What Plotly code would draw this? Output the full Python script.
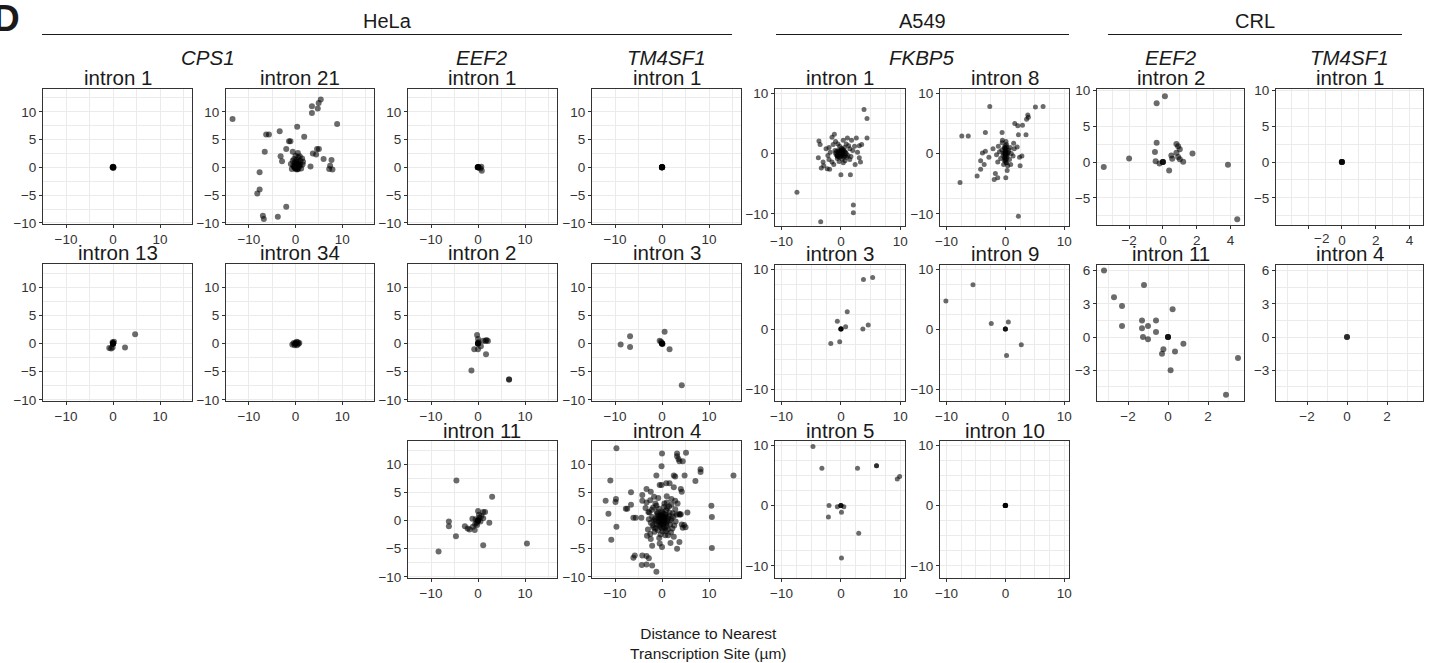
import plotly.graph_objects as go

W, H = 1431, 663
FONT = "Liberation Sans, Arial, Helvetica, sans-serif"

# ---------------- DATA (distance to nearest transcription site, µm) ----------------
# HeLa CPS1 intron 1
HELA_CPS1_I1_X = [0, 0.05, -0.05, 0.1, 0, -0.1, 0.05]
HELA_CPS1_I1_Y = [0, 0.05, -0.05, 0, 0.1, 0, -0.1]
# HeLa CPS1 intron 21
HELA_CPS1_I21_X = [-13.5, 3.5, 3.5, 4.75, 4.95, 5.4, 8.9, 0.35, -3.4, -6.3, -5.7, 1.85, -1.4, -1.1, -6.6,
                   -2.0, -0.6, 0.5, 4.6, 5.0, 3.7, 4.4, -3.2, -2.9, 6.0, 7.7, 7.4, 7.2, 7.9, 3.2, -7.7,
                   -7.7, -8.2, -2.0, -7.0, -6.8, -3.8,
                   0, 0, 0, 0, 0, -0.5, 0.4, 1.0, -0.3, 0.6, 1.5, 1.2, -0.8, 0.3, 0.8, -0.2, 0.5, 1.0,
                   0.2, -0.1, 0.1, 0.6, 1.6, -1.0, 0.0, 0.9, 1.4, -0.6, 0.3, 0.7,
                   0.1, -0.1, 0.3, 0.5, 0.2, -0.3, 0.4, 0.0, 0.7, 0.2, 0.0, -0.2]
HELA_CPS1_I21_Y = [8.7, 9.8, 11.0, 10.6, 11.6, 12.2, 7.8, 7.3, 6.5, 5.9, 5.9, 5.5, 4.7, 4.7, 2.8,
                   3.3, 2.8, 2.6, 3.3, 3.3, 2.5, 2.3, 2.0, 1.1, 1.5, 1.3, 0.3, -0.3, -0.4, 0.15, -0.9,
                   -4.0, -4.7, -7.1, -8.7, -9.3, -8.9,
                   0, 0, 0, 0, 0, 0.3, 0.6, 1.2, 1.5, 1.8, 0.5, -0.2, -0.3, -0.4, 0.2, 0.8, 1.0, 0.4,
                   0.1, -0.1, 0.3, -0.3, 1.0, 0.6, 2.1, 2.0, 1.6, 1.2, 0.5, 0.7,
                   0.2, 0.4, 0.0, 0.3, 0.6, 0.1, -0.2, -0.3, 0.4, 1.3, 1.0, 0.0]
# HeLa CPS1 intron 13
HELA_CPS1_I13_X = [0, 0, 0, 0, 0, 0, 0.2, -0.1, 4.7, 2.55, -0.4, -0.1, -0.8]
HELA_CPS1_I13_Y = [0, 0, 0, 0, 0, 0, 0.3, 0.2, 1.65, -0.7, -0.9, -0.7, -0.8]
# HeLa CPS1 intron 34
HELA_CPS1_I34_X = [0, 0, 0, 0, -0.7, -0.4, 0.3, 0.8, 0.5, -0.2, 0.2, 0.6]
HELA_CPS1_I34_Y = [0, 0, 0, 0, -0.2, 0.1, -0.3, 0.1, 0.2, -0.3, 0.3, -0.1]
# HeLa EEF2 intron 1
HELA_EEF2_I1_X = [0, 0, 0, 0, 0.1, -0.1, 0.7, 0.8, 0.5]
HELA_EEF2_I1_Y = [0, 0, 0, 0, 0.05, 0, 0.1, -0.6, -0.2]
# HeLa EEF2 intron 2
HELA_EEF2_I2_X = [0, 0, 0, 0, 0.1, -0.2, 0.0, 1.6, 2.1, 1.1, 1.8, 0.6, -0.8, 0.0, 1.7, -1.4, 6.6, 6.6]
HELA_EEF2_I2_Y = [0, 0, 0, 0, 0.2, 1.5, 0.8, 0.45, 0.45, 0.5, 0.6, -0.5, -1.0, -1.0, -1.9, -4.8, -6.4, -6.4]
# HeLa EEF2 intron 11
HELA_EEF2_I11_X = [-4.6, 3.0, -6.2, -6.2, -4.7, -8.4, 1.1, 10.4, 2.4, 0, 1.1, 1.5, -2.8, -2.2, -1.8, -0.7,
                   -1.1, 1.1, -1.2, 0, 0, 0, 0, 0.3, -0.3, 0.5, -0.5, 0.2, -0.2, 0.7, -0.6]
HELA_EEF2_I11_Y = [7.1, 4.2, -0.2, -1.0, -2.8, -5.5, -4.4, -4.1, -0.4, 1.7, 1.5, 1.5, -1.0, -1.4, -1.6, -1.7,
                   -1.1, 0.4, 0.3, 0, 0, 0, 0, 0.5, -0.4, -0.2, 0.2, 1.0, -0.8, 0.8, -0.6]
# HeLa TM4SF1 intron 1
HELA_TM4SF1_I1_X = [0, 0, 0, 0, 0, 0, 0.05, -0.05]
HELA_TM4SF1_I1_Y = [0, 0, 0, 0, 0, 0, 0.05, -0.05]
# HeLa TM4SF1 intron 3
HELA_TM4SF1_I3_X = [0, 0, 0, 0, 0.1, -0.5, -0.2, 0.55, 1.6, 4.2, -8.8, -6.8, -6.8]
HELA_TM4SF1_I3_Y = [0, 0, 0, 0, -0.1, 0.5, 0.3, 2.1, -1.0, -7.4, -0.2, 1.3, -0.6]
# HeLa TM4SF1 intron 4
HELA_TM4SF1_I4_X = [-9.7, 0, 3.2, 3.2, 3.5, 3.7, 4.4, 5.1, -0.1, 15.2, 8.2, 8.2, -1.2, 2.5, 2.8, 4.8, 7.1,
                    -11.0, -6.6, -4.2, -3.3, -2.4, -0.5, -0.1, 0.9, 1.6, 2.5, 4.0, 4.2, -12.0, -9.8, -9.9,
                    -11.4, -7.7, -7.4, -6.6, -6.1, -5.6, -4.4, -9.7, -10.8, -6.1, -5.8, -4.2, -3.3, -2.8,
                    -4.3, -3.3, -2.1, -1.2, 10.5, 10.6, 10.6, 5.4, 5.0, 3.2, 3.7, 2.5, 1.8, -0.5, 0, -3.2,
                    -2.4, -2.1, 4.2, 4.7, 4.4, 4.0, 3.6, 3.8, -4.2, -3.3, -2.5, -1.7, -0.8, 1.0, 2.0, 2.8,
                    3.3, -3.5, -2.9,
                    0, 0.2, -0.3, 0.5, -0.6, 0.8, -0.9, 1.1, -1.2, 0.3, -0.4, 1.4, -1.5, 0.6, -0.1, 1.7,
                    -1.8, 0.9, -1.1, 2.0, -2.1, 0.1, 1.2, -0.7, 2.3, -2.4, 0.4, -1.6, 1.9, -0.3, 2.6, -2.7,
                    0.7, 1.5, -1.9, 2.8, -2.5, 0.0, 0.5, -0.5, 0.2, -0.2, 0.9, -0.8, 0.4, -0.4, 1.3, -1.3,
                    0.7, -0.7, 1.0, -1.0, 0.1, 0.3, -0.1, 0.6, -0.6, 1.6, -1.4, 2.2, -2.2, 1.8, -1.7, 0.0,
                    1.1, -1.2, 2.4, -0.9, 0.8, -2.0, 0.2, -0.2, 0.3, -0.3, 0.6, 2.9, -2.8, 1.3, -1.4, 0.5,
                    2.0, -0.6, 1.0, -3.0, 3.1]
HELA_TM4SF1_I4_Y = [12.8, 11.9, 11.9, 11.4, 10.9, 10.5, 10.5, 12.0, 9.6, 8.0, 9.1, 8.6, 8.0, 8.0, 7.8, 8.0, 7.0,
                    7.1, 5.0, 4.5, 5.6, 5.1, 6.3, 6.3, 6.6, 6.6, 5.9, 5.6, 5.1, 3.5, 3.8, 3.3,
                    1.2, 2.1, 2.1, 2.8, 0.5, 0.5, 0.5, -1.1, -3.4, -6.6, -6.2, -6.2, -6.3, -6.7,
                    -7.9, -7.8, -8.0, -9.1, 2.6, 0.6, -4.9, 1.4, -1.2, -5.0, -3.8, -2.9, -4.0, -4.1, -4.7, -2.7,
                    -3.3, -4.5, -0.7, -0.8, -1.3, 1.1, 1.2, 1.0, 3.5, 3.2, 3.6, 4.2, 4.0, 4.3, 3.8, 3.5,
                    3.0, 2.2, 1.5,
                    0, 0.3, 0.5, -0.4, -0.2, 0.7, 0.9, -0.1, -0.6, 1.2, -1.1, 0.9, 0.3, -1.3, 1.6, -0.7,
                    -1.2, 1.8, 1.5, 0.3, 0.6, -1.9, -1.6, 2.1, 1.3, -0.4, 2.4, -2.0, -2.1, -2.5, -0.9, 1.4,
                    -2.6, 2.5, 2.3, 2.0, -2.4, 0.8, 0.1, 0.2, -0.6, -0.3, -0.5, 0.4, 0.6, 1.0, 0.4, -0.1,
                    1.1, -0.8, -1.0, 1.2, 1.4, -1.0, 0.1, 0.5, 0.7, 1.4, -1.4, -1.4, 1.9, 0.0, 0.0, -1.4,
                    2.2, 2.6, 0.7, -1.7, -1.9, -0.9, 0.0, 0.6, 0.3, -0.7, -0.2, -0.2, 0.2, -2.6, 3.0, 3.0,
                    2.8, -3.1, 3.2, -1.6, 1.0]

# A549 FKBP5 intron 1
A549_FKBP5_I1_X = [3.9, 4.4, 4.4, -7.4, 2.1, 2.1, -3.4, -3.7, -3.5, -3.8, -3.0, -3.3, -2.9, -2.3, -1.9, -1.1,
                   -1.5, 0, 1.6, 1.1, 1.8, 2.6, 3.1, 3.5, 2.8, 3.1, 3.3, 2.4, 1.5, 1.0, -2.0, -1.5, -2.5, -2.0,
                   -0.6, -0.3,
                   0, 0, 0, 0, 0.3, -0.4, 0.8, -0.8, 0.5, -0.2, 0.6, -1.0, 1.2, 0.2, -0.6, 1.5, -1.3, 0.9,
                   2.0, -1.8, 1.7, -0.9, 0.4, 2.3, -2.2, 0.0, 0.1, -0.3, 0.7, -1.2, 1.3, 0.4, -0.5,
                   0.2, -0.2, 0.4, -0.4, 0.1, -0.1, 0.6, -0.6, 0.3, -0.3, 0.5, -0.5, 0.7, -0.7, 0.0, 0.2,
                   -0.2, 0.9, -0.9, 0.1]
A549_FKBP5_I1_Y = [7.3, 5.8, 2.6, -6.4, -8.5, -9.8, -11.3, 2.1, 1.5, -0.7, -1.4, -2.4, -2.0, -2.5, -2.6, 3.2,
                   2.7, -3.5, -3.5, 2.6, 2.2, 2.6, 1.3, 1.5, 0.2, -0.7, -1.4, -1.8, -1.0, -0.6, -1.0, -1.4, 0.8,
                   1.0, -0.4, -1.3,
                   0, 0, 0, 0, 0.4, 0.6, 0.2, -0.2, -0.6, 1.2, 1.0, 0.5, -0.3, -0.9, -0.8, 0.8, 1.5, 1.6,
                   0.5, 0.2, -0.5, 2.0, 2.2, 1.2, -0.3, 0.5, -0.2, 0.2, -1.2, -1.8, 1.3, -1.5, 1.6,
                   0.1, -0.1, -0.2, 0.2, 0.5, -0.5, 0.3, -0.3, 0.7, -0.6, 0.5, -0.5, -0.4, 0.4, 0.3, -0.3,
                   0.4, 0.0, 0.1, 0.9]
# A549 FKBP5 intron 8
A549_FKBP5_I8_X = [-7.7, -7.4, -6.3, -3.4, -2.65, -0.56, 1.6, 2.1, 2.9, 3.6, 3.9, 3.8, 5.1, 6.4, 3.5, 2.2,
                   -4.8, -4.2, -4.2, -3.6, -2.8, -3.9, -3.4, -1.7, -1.3, -1.9, 0.07, 0.3, 2.5, 2.4, 2.8, 1.4,
                   2.0, -1.5, -1.3, -2.1, -0.55, 2.2,
                   0, 0, 0, 0.1, -0.2, 0.3, 0, 0.2, -0.4, 0.5, -0.6, 0.7, -0.3, 0.4, 0.8, -0.8, 1.0, -1.0,
                   0.2, 0, -0.1, 0.6, 1.3, -1.2, 0.9, 0.1, -0.5, 1.5,
                   0, 0, 0.1, -0.1, 0.2, -0.2, 0.1, 0, 0.3, -0.3, 0.2, -0.1, 0.3, -0.2, 0.1, 0]
A549_FKBP5_I8_Y = [-4.8, 2.9, 2.9, 3.5, 7.8, 3.5, 5.0, 4.6, 4.7, 5.7, 6.0, 6.4, 7.7, 7.8, 3.1, 3.1,
                   -3.7, -2.6, -1.2, -1.8, -0.6, 0.1, 0.4, -3.3, -4.0, -4.3, -4.0, -2.8, -2.0, -0.6, -0.4, 1.7,
                   1.1, -0.2, -1.4, 0.8, 1.8, -10.4,
                   0, 0, 0, 0.5, 1.0, -0.5, -1.2, 1.5, -0.3, 0.2, 0.6, -1.0, -1.8, -2.0, 1.0, -0.8, 0.0, 0.3,
                   -1.5, 0.9, -0.6, 0.6, -0.4, 1.2, -1.8, 2.0, 2.2, 0.8,
                   0.3, -0.3, 0.7, -0.7, 1.1, -1.1, -1.5, 1.3, 0.1, 0.0, -0.9, 0.9, -0.2, 0.2, 0.0, -0.9]
# A549 FKBP5 intron 3
A549_FKBP5_I3_X = [3.8, 5.35, 1.07, -0.6, 0.8, 0, 0, 0, 0.05, 3.7, 4.6, -0.2, -1.7]
A549_FKBP5_I3_Y = [8.3, 8.6, 2.9, 1.3, 0.4, 0, 0, 0, 0.05, 0, 0.7, -2.1, -2.4]
# A549 FKBP5 intron 9
A549_FKBP5_I9_X = [-10.1, -5.5, -2.4, 0.5, 0, 0, 0, 2.7, 0.2]
A549_FKBP5_I9_Y = [4.7, 7.4, 0.95, 1.2, 0, 0, 0, -2.6, -4.4]
# A549 FKBP5 intron 5
A549_FKBP5_I5_X = [-4.7, -3.2, 2.8, 6.0, 6.0, 9.5, 9.9, -2.0, -2.1, -0.6, 0.5, 0, 0, 0, 0.1, 3.0, 0.1]
A549_FKBP5_I5_Y = [9.8, 6.2, 6.2, 6.6, 6.6, 4.4, 4.8, 0, -1.9, -0.2, -0.2, 0, 0, 0, -1.1, -4.6, -8.7]
# A549 FKBP5 intron 10
A549_FKBP5_I10_X = [0, 0, 0, 0, 0, 0.05, -0.05]
A549_FKBP5_I10_Y = [0, 0, 0, 0, 0, 0.05, 0]

# CRL EEF2 intron 2
CRL_EEF2_I2_X = [0.12, -0.37, -0.37, -0.47, -0.43, -0.2, 0, 0, 0, -3.5, -2.0, 0.37, 0.5, 0.55, 0.8, 0.9,
                 1.0, 0.8, 0.9, 1.0, 1.2, 1.75, 3.85, 4.4]
CRL_EEF2_I2_Y = [9.2, 8.2, 2.7, 1.4, 0.1, -0.2, 0, 0, 0, -0.7, 0.5, -1.2, 0.9, 0.45, 2.5, 2.2,
                 1.8, 1.3, 0.7, 0.4, 0.05, 1.2, -0.4, -8.0]
# CRL TM4SF1 intron 1
CRL_TM4SF1_I1_X = [0, 0, 0, 0]
CRL_TM4SF1_I1_Y = [0, 0, 0, 0]
# CRL EEF2 intron 11
CRL_EEF2_I11_X = [-3.2, -1.2, -2.7, -2.3, -2.3, 0.23, -1.3, -0.6, -1.3, -1.0, -0.6, -1.25, -1.0, 0, 0, 0,
                  -0.23, -0.3, 0.35, 0.77, 0.13, 3.5, 2.9]
CRL_EEF2_I11_Y = [6.0, 4.7, 3.6, 2.8, 1.0, 2.5, 1.5, 1.5, 0.8, 1.0, 0.45, 0, -0.2, 0, 0, 0,
                  -1.1, -1.5, -1.3, -0.6, -3.0, -1.9, -5.2]
# CRL TM4SF1 intron 4
CRL_TM4SF1_I4_X = [0, 0]
CRL_TM4SF1_I4_Y = [0, 0]

CELL_LINES = ["HeLa", "A549", "CRL"]
AXIS_TITLE = "Distance to Nearest<br>Transcription Site (µm)"

# ---------------- LAYOUT ----------------
GRID = "#ebebeb"
AX = "#333333"
PT = "rgba(0,0,0,0.58)"

SCALES = {
    "hela": dict(xr=[-14.9, 16.8], xd=10, xm=5, yr=[-10.2, 14.1], yd=5, ym=2.5, ms=6),
    "a549": dict(xr=[-11.1, 10.8], xd=10, xm=2.5, yr=[-12.0, 10.7], yd=10, ym=2.5, ms=5),
    "crl1": dict(xr=[-3.9, 4.8], xd=2, xm=1, yr=[-8.8, 10.2], yd=5, ym=2.5, ms=6),
    "crl2": dict(xr=[-3.55, 3.8], xd=2, xm=1, yr=[-5.77, 6.5], yd=3, ym=1.5, ms=6),
}

COLS = {1: (43, 192), 2: (226, 374), 3: (408, 557), 4: (592, 741),
        5: (775, 905), 6: (940, 1069), 7: (1097, 1244), 8: (1276, 1423)}
ROWS_HELA = {1: (89, 224), 2: (264, 401), 3: (441, 578)}
ROWS_A549 = {1: (89, 226), 2: (265, 401), 3: (441, 578)}
ROWS_CRL = {1: (89, 225), 2: (265, 401)}

PANELS = [
    (HELA_CPS1_I1_X, HELA_CPS1_I1_Y, 1, ROWS_HELA[1], "hela", "intron 1"),
    (HELA_CPS1_I21_X, HELA_CPS1_I21_Y, 2, ROWS_HELA[1], "hela", "intron 21"),
    (HELA_EEF2_I1_X, HELA_EEF2_I1_Y, 3, ROWS_HELA[1], "hela", "intron 1"),
    (HELA_TM4SF1_I1_X, HELA_TM4SF1_I1_Y, 4, ROWS_HELA[1], "hela", "intron 1"),
    (HELA_CPS1_I13_X, HELA_CPS1_I13_Y, 1, ROWS_HELA[2], "hela", "intron 13"),
    (HELA_CPS1_I34_X, HELA_CPS1_I34_Y, 2, ROWS_HELA[2], "hela", "intron 34"),
    (HELA_EEF2_I2_X, HELA_EEF2_I2_Y, 3, ROWS_HELA[2], "hela", "intron 2"),
    (HELA_TM4SF1_I3_X, HELA_TM4SF1_I3_Y, 4, ROWS_HELA[2], "hela", "intron 3"),
    (HELA_EEF2_I11_X, HELA_EEF2_I11_Y, 3, ROWS_HELA[3], "hela", "intron 11"),
    (HELA_TM4SF1_I4_X, HELA_TM4SF1_I4_Y, 4, ROWS_HELA[3], "hela", "intron 4"),
    (A549_FKBP5_I1_X, A549_FKBP5_I1_Y, 5, ROWS_A549[1], "a549", "intron 1"),
    (A549_FKBP5_I8_X, A549_FKBP5_I8_Y, 6, ROWS_A549[1], "a549", "intron 8"),
    (A549_FKBP5_I3_X, A549_FKBP5_I3_Y, 5, ROWS_A549[2], "a549", "intron 3"),
    (A549_FKBP5_I9_X, A549_FKBP5_I9_Y, 6, ROWS_A549[2], "a549", "intron 9"),
    (A549_FKBP5_I5_X, A549_FKBP5_I5_Y, 5, ROWS_A549[3], "a549", "intron 5"),
    (A549_FKBP5_I10_X, A549_FKBP5_I10_Y, 6, ROWS_A549[3], "a549", "intron 10"),
    (CRL_EEF2_I2_X, CRL_EEF2_I2_Y, 7, ROWS_CRL[1], "crl1", "intron 2"),
    (CRL_TM4SF1_I1_X, CRL_TM4SF1_I1_Y, 8, ROWS_CRL[1], "crl1", "intron 1"),
    (CRL_EEF2_I11_X, CRL_EEF2_I11_Y, 7, ROWS_CRL[2], "crl2", "intron 11"),
    (CRL_TM4SF1_I4_X, CRL_TM4SF1_I4_Y, 8, ROWS_CRL[2], "crl2", "intron 4"),
]

def fx(p):
    return p / W

def fy(p):
    return 1 - p / H

fig = go.Figure()
layout = dict(width=W, height=H, margin=dict(l=0, r=0, t=0, b=0, pad=0), autosize=False,
              paper_bgcolor="white", plot_bgcolor="white", showlegend=False,
              font=dict(family=FONT, color="#1a1a1a"))
annotations = []
shapes = []

tickfont = dict(family=FONT, size=13.5, color="#333333")

for i, (xs, ys, col, (top, bot), sk, title) in enumerate(PANELS, start=1):
    sc = SCALES[sk]
    l, r = COLS[col]
    xname = "xaxis" if i == 1 else f"xaxis{i}"
    yname = "yaxis" if i == 1 else f"yaxis{i}"
    common = dict(ticks="outside", ticklen=3, tickwidth=1, tickcolor=AX,
                  showgrid=True, gridcolor=GRID, gridwidth=1,
                  showline=True, linecolor=AX, linewidth=1, mirror=True,
                  zeroline=False, tickfont=tickfont, fixedrange=True, automargin=False)
    xax = dict(domain=[fx(l), fx(r)], range=sc["xr"], anchor=f"y{i}",
               tickmode="linear", tick0=0, dtick=sc["xd"],
               minor=dict(tickmode="linear", tick0=0, dtick=sc["xm"], showgrid=True,
                          gridcolor=GRID, gridwidth=1, ticks=""), **common)
    if sk == "crl1" and col == 8:
        xax.update(tickmode="array", tickvals=[-2, 0, 2, 4], ticktext=["", "0", "2", "4"])
    yax = dict(domain=[fy(bot), fy(top)], range=sc["yr"], anchor=f"x{i}",
               tickmode="linear", tick0=0, dtick=sc["yd"],
               minor=dict(tickmode="linear", tick0=0, dtick=sc["ym"], showgrid=True,
                          gridcolor=GRID, gridwidth=1, ticks=""), **common)
    layout[xname] = xax
    layout[yname] = yax
    fig.add_trace(go.Scatter(x=xs, y=ys, mode="markers", xaxis=f"x{i}", yaxis=f"y{i}",
                             marker=dict(size=sc["ms"], color=PT, line=dict(width=0)),
                             hoverinfo="skip", showlegend=False))
    ty = 77 if top < 100 else top - 11
    annotations.append(dict(x=fx((l + r) / 2), y=fy(ty), xref="paper", yref="paper",
                            text=title, showarrow=False, xanchor="center", yanchor="middle",
                            font=dict(family=FONT, size=20.5, color="#1a1a1a")))

GENE_LABELS = [("CPS1", (43 + 374) / 2), ("EEF2", (408 + 557) / 2), ("TM4SF1", (592 + 741) / 2),
               ("FKBP5", (775 + 1069) / 2), ("EEF2", (1097 + 1244) / 2), ("TM4SF1", (1276 + 1423) / 2)]
for g, cx in GENE_LABELS:
    annotations.append(dict(x=fx(cx), y=fy(57), xref="paper", yref="paper", text=f"<i>{g}</i>",
                            showarrow=False, xanchor="center", yanchor="middle",
                            font=dict(family=FONT, size=20.5, color="#1a1a1a")))

HEADER_SPANS = [(42, 732), (776, 1069), (1108, 1402)]
for name, (a, b) in zip(CELL_LINES, HEADER_SPANS):
    annotations.append(dict(x=fx((a + b) / 2), y=fy(21), xref="paper", yref="paper", text=name,
                            showarrow=False, xanchor="center", yanchor="middle",
                            font=dict(family=FONT, size=20, color="#1a1a1a")))
    shapes.append(dict(type="line", xref="paper", yref="paper", x0=fx(a), x1=fx(b),
                       y0=fy(34.5), y1=fy(34.5), line=dict(color="#1a1a1a", width=1.2)))

annotations.append(dict(x=fx(1321), y=fy(238), xref="paper", yref="paper", text="−2",
                        showarrow=False, xanchor="center", yanchor="middle", font=tickfont))

annotations.append(dict(x=fx(22), y=fy(18), xref="paper", yref="paper", text="<b>D</b>",
                        showarrow=False, xanchor="right", yanchor="middle",
                        font=dict(family=FONT, size=37, color="#1a1a1a")))

annotations.append(dict(x=fx(708), y=fy(643), xref="paper", yref="paper", text=AXIS_TITLE,
                        showarrow=False, xanchor="center", yanchor="middle",
                        font=dict(family=FONT, size=15.5, color="#1a1a1a")))

layout["annotations"] = annotations
layout["shapes"] = shapes
fig.update_layout(**layout)

PAGE_FIX = ("document.documentElement.style.margin='0';document.body.style.margin='0';"
            "document.body.style.padding='0';document.body.style.overflow='hidden';"
            "document.documentElement.style.overflow='hidden';")
fig.write_html("out.html", post_script=PAGE_FIX, config={"displayModeBar": False})
